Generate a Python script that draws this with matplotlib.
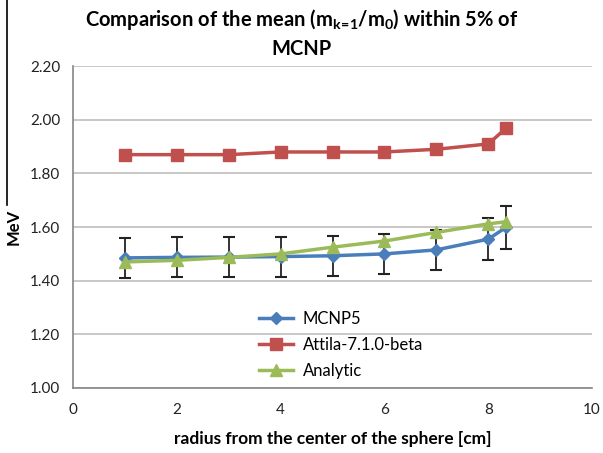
import matplotlib
matplotlib.use("Agg")
import matplotlib.pyplot as plt
from matplotlib.lines import Line2D

plt.rcParams['font.family'] = ['Lato', 'DejaVu Sans']
plt.rcParams['mathtext.default'] = 'regular'

radius = [1, 2, 3, 4, 5, 6, 7, 8, 8.35]
mcnp5 = [1.485, 1.487, 1.488, 1.490, 1.493, 1.500, 1.515, 1.555, 1.600]
attila = [1.87, 1.87, 1.87, 1.88, 1.88, 1.88, 1.89, 1.91, 1.97]
analytic = [1.470, 1.476, 1.487, 1.500, 1.525, 1.548, 1.580, 1.612, 1.620]
err = [v * 0.05 for v in mcnp5]  # 5% of MCNP

fig = plt.figure(figsize=(6.03, 4.53), dpi=100)
ax = fig.add_axes([0.121, 0.1435, 0.861, 0.7105])

ax.errorbar(radius, mcnp5, yerr=err, fmt='none', ecolor='#222222',
            elinewidth=1.3, capsize=4, capthick=1.5, zorder=2)
ax.plot(radius, mcnp5, color='#4A7EBB', lw=2.5, marker='D', markersize=6,
        label='MCNP5', zorder=3)
ax.plot(radius, attila, color='#C0504D', lw=2.5, marker='s', markersize=8.5,
        label='Attila-7.1.0-beta', zorder=3)
ax.plot(radius, analytic, color='#9BBB59', lw=2.5, marker='^', markersize=9,
        label='Analytic', zorder=4)

ax.set_xlim(0, 10)
ax.set_ylim(1.0, 2.2)
ax.set_xticks(range(0, 11, 2))
ax.set_yticks([1.0, 1.2, 1.4, 1.6, 1.8, 2.0, 2.2])
ax.set_yticklabels(['%.2f' % t for t in ax.get_yticks()])
ax.yaxis.grid(True, color='#BFBFBF', lw=1.2)
ax.set_axisbelow(True)
for s in ['top', 'right']:
    ax.spines[s].set_visible(False)
for s in ['left', 'bottom']:
    ax.spines[s].set_color('#868686')
    ax.spines[s].set_linewidth(1.2)
ax.tick_params(length=0, labelsize=11, colors='#222222')
ax.tick_params(axis='y', pad=9)
ax.tick_params(axis='x', pad=11)

ax.set_xlabel('radius from the center of the sphere [cm]', fontsize=12.5,
              fontweight='bold', labelpad=10)
ax.set_ylabel('MeV', fontsize=12, fontweight='bold')
ax.yaxis.set_label_coords(-0.098, 0.5)
fig.suptitle('Comparison of the mean (m$_{k\\!=\\!1}$/m$_0$) within 5% of\nMCNP',
             fontsize=14.5, fontweight='bold', x=0.5, y=0.985,
             linespacing=1.45)

ax.legend(loc='upper left', bbox_to_anchor=(0.33, 0.285), frameon=False,
          fontsize=12, handlelength=2.0, labelspacing=0.6, handletextpad=0.6)

fig.add_artist(Line2D([0.012, 0.012], [1.0, 1 - 205 / 453],
                      color='black', lw=1.2, transform=fig.transFigure))

fig.savefig('out.png', dpi=100)
